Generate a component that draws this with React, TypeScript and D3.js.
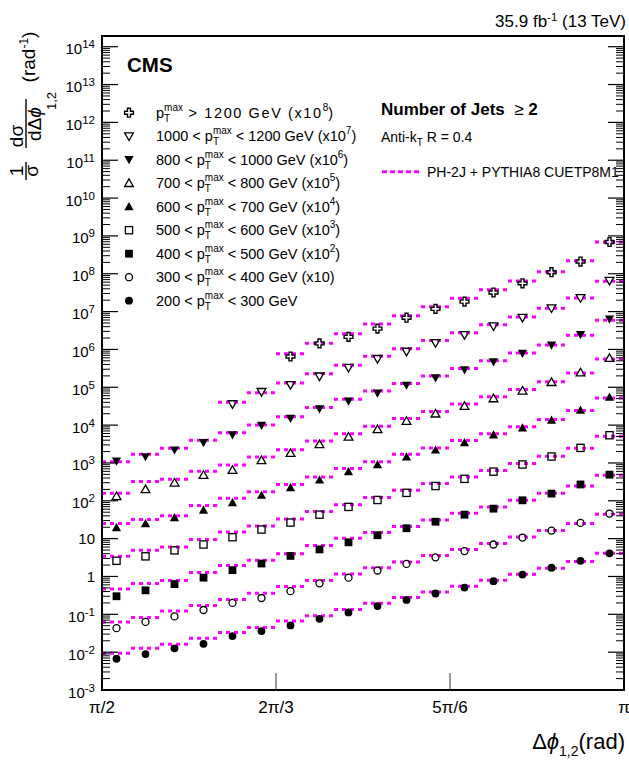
import React from "react";
import * as d3 from "d3";

const WIDTH = 629;
const HEIGHT = 761;
const FONT = "'Liberation Sans', Arial, Helvetica, sans-serif";
const MAGENTA = "#ff00ff";

const N_BINS = 18;
const X_MIN = Math.PI / 2;
const X_MAX = Math.PI;

const xTickValues = [Math.PI / 2, (2 * Math.PI) / 3, (5 * Math.PI) / 6, Math.PI];
const xTickLabels = ["π/2", "2π/3", "5π/6", "π"];
const yDecades = d3.range(-3, 15);

const _ = null;
// data (points) and theory (PH-2J + PYTHIA8) per bin, already scaled
const data1200 = [_, _, _, _, _, _, 6.5e5, 1.45e6, 2.15e6, 3.55e6, 6.9e6, 1.18e7, 1.83e7, 3.2e7, 5.6e7, 1.1e8, 2.1e8, 6.9e8];
const theory1200 = [_, _, _, _, _, _, 7.7e5, 1.45e6, 2.6e6, 4.7e6, 7.8e6, 1.35e7, 2.24e7, 3.8e7, 6.4e7, 1.13e8, 2.2e8, 6.9e8];
const data1000 = [_, _, _, _, 3.6e4, 7.6e4, 1.16e5, 1.95e5, 3.3e5, 5.65e5, 8.8e5, 1.48e6, 2.43e6, 4.1e6, 6.9e6, 1.23e7, 2.3e7, 6.6e7];
const theory1000 = [_, _, _, _, 4.0e4, 7.2e4, 1.3e5, 2.27e5, 3.8e5, 6.6e5, 1.05e6, 1.72e6, 2.75e6, 4.5e6, 7.2e6, 1.23e7, 2.3e7, 6.3e7];
const data800 = [1120, 1460, 2200, 3430, 5500, 9800, 1.5e4, 2.7e4, 4.3e4, 7.0e4, 1.13e5, 1.78e5, 2.9e5, 4.7e5, 7.9e5, 1.3e6, 2.45e6, 6.3e6];
const theory800 = [1070, 1700, 2430, 4000, 6300, 1.0e4, 1.66e4, 2.9e4, 4.8e4, 8.0e4, 1.26e5, 2.0e5, 3.13e5, 5.0e5, 8.1e5, 1.3e6, 2.37e6, 5.9e6];
const data700 = [132, 200, 300, 480, 650, 1170, 1820, 3100, 4900, 7700, 12800, 2.0e4, 3.17e4, 5.07e4, 8.1e4, 1.36e5, 2.45e5, 5.9e5];
const theory700 = [158, 325, 370, 600, 880, 1440, 2250, 3800, 5900, 9300, 1.5e4, 2.3e4, 3.6e4, 5.6e4, 8.7e4, 1.4e5, 2.4e5, 5.6e5];
const data600 = [19.5, 25, 36, 57, 90, 140, 223, 355, 590, 900, 1440, 2200, 3450, 5500, 8500, 13500, 2.5e4, 5.5e4];
const theory600 = [25, 32, 40, 75, 117, 173, 270, 425, 710, 1070, 1700, 2500, 3900, 5900, 9100, 1.4e4, 2.45e4, 5.2e4];
const data500 = [2.6, 3.4, 4.9, 7.0, 10.9, 17.4, 26.6, 43, 69, 105, 162, 246, 380, 590, 910, 1480, 2500, 5400];
const theory500 = [3.4, 4.9, 6.0, 9.5, 15, 21.6, 33, 52, 79, 123, 190, 285, 425, 630, 970, 1510, 2450, 5100];
const data400 = [0.3, 0.43, 0.63, 0.93, 1.47, 2.2, 3.5, 5.2, 8.0, 12.3, 18.8, 28, 43, 62, 103, 155, 270, 490];
const theory400 = [0.47, 0.65, 0.78, 1.27, 1.95, 2.7, 4.0, 6.6, 10.3, 14.5, 21, 31, 47, 69, 103, 158, 246, 470];
const data300 = [0.043, 0.063, 0.088, 0.13, 0.2, 0.27, 0.41, 0.66, 0.93, 1.44, 2.15, 3.2, 4.7, 7.0, 10.7, 16.3, 26, 46];
const theory300 = [0.063, 0.083, 0.123, 0.17, 0.245, 0.36, 0.54, 0.78, 1.17, 1.7, 2.4, 3.6, 5.2, 7.4, 11.1, 16.3, 25, 44];
const data200 = [0.0067, 0.0089, 0.0126, 0.0166, 0.0266, 0.036, 0.051, 0.076, 0.112, 0.165, 0.24, 0.355, 0.51, 0.75, 1.12, 1.7, 2.6, 4.1];
const theory200 = [0.0093, 0.0126, 0.0162, 0.0234, 0.033, 0.045, 0.067, 0.091, 0.135, 0.197, 0.28, 0.39, 0.55, 0.8, 1.15, 1.65, 2.5, 4.1];

const markerTypes = ["opencross", "opentridown", "tridown", "opentriup", "triup", "opensquare", "square", "opencircle", "circle"];
const seriesData = [data1200, data1000, data800, data700, data600, data500, data400, data300, data200];
const seriesTheory = [theory1200, theory1000, theory800, theory700, theory600, theory500, theory400, theory300, theory200];
const legendPrefix = ["", "1000 < ", "800 < ", "700 < ", "600 < ", "500 < ", "400 < ", "300 < ", "200 < "];
const legendSuffix = [" > 1200 GeV (x10", " < 1200 GeV (x10", " < 1000 GeV (x10", " < 800 GeV (x10", " < 700 GeV (x10", " < 600 GeV (x10", " < 500 GeV (x10", " < 400 GeV (x10)", " < 300 GeV"];
const legendExp = ["8", "7", "6", "5", "4", "3", "2", "", ""];

let ctx: CanvasRenderingContext2D | null = null;
function textWidth(t: string, size: number) {
  if (!ctx) ctx = document.createElement("canvas").getContext("2d");
  if (!ctx) return t.length * size * 0.55;
  ctx.font = `${size}px 'Liberation Sans'`;
  return ctx.measureText(t).width;
}

function Marker({ type, cx, cy }: { type: string; cx: number; cy: number }) {
  const sw = 1.3;
  switch (type) {
    case "circle":
      return <circle cx={cx} cy={cy} r={3.9} fill="black" />;
    case "opencircle":
      return <circle cx={cx} cy={cy} r={3.5} fill="none" stroke="black" strokeWidth={sw} />;
    case "square":
      return <rect x={cx - 3.9} y={cy - 3.9} width={7.8} height={7.8} fill="black" />;
    case "opensquare":
      return <rect x={cx - 3.6} y={cy - 3.6} width={7.2} height={7.2} fill="none" stroke="black" strokeWidth={sw} />;
    case "triup":
      return <path d={`M${cx},${cy - 4.6}L${cx + 4.6},${cy + 3.6}L${cx - 4.6},${cy + 3.6}Z`} fill="black" />;
    case "opentriup":
      return <path d={`M${cx},${cy - 4.3}L${cx + 4.4},${cy + 3.3}L${cx - 4.4},${cy + 3.3}Z`} fill="none" stroke="black" strokeWidth={sw} />;
    case "tridown":
      return <path d={`M${cx},${cy + 4.6}L${cx + 4.6},${cy - 3.6}L${cx - 4.6},${cy - 3.6}Z`} fill="black" />;
    case "opentridown":
      return <path d={`M${cx},${cy + 4.3}L${cx + 4.4},${cy - 3.3}L${cx - 4.4},${cy - 3.3}Z`} fill="none" stroke="black" strokeWidth={sw} />;
    case "opencross": {
      const a = 4.4, b = 1.5;
      const d = `M${cx - b},${cy - a}H${cx + b}V${cy - b}H${cx + a}V${cy + b}H${cx + b}V${cy + a}H${cx - b}V${cy + b}H${cx - a}V${cy - b}H${cx - b}Z`;
      return <path d={d} fill="none" stroke="black" strokeWidth={1.4} />;
    }
    default:
      return null;
  }
}

export default function App() {
  const left = 102, right = 624, top = 36, bottom = 690;
  const x = d3.scaleLinear().domain([X_MIN, X_MAX]).range([left, right]);
  const y = d3.scaleLog().domain([1e-3, Math.pow(10, 14.283)]).range([bottom, top]);
  const edges = d3.range(N_BINS + 1).map((i) => X_MIN + (i * (X_MAX - X_MIN)) / N_BINS);
  const centers = d3.range(N_BINS).map((i) => (edges[i] + edges[i + 1]) / 2);
  const yMaxVal = y.domain()[1];

  const minorTicks: number[] = [];
  yDecades.forEach((n) => {
    for (let k = 2; k <= 9; k++) {
      const v = k * Math.pow(10, n);
      if (v < yMaxVal) minorTicks.push(v);
    }
  });

  const LFS = 14.5;
  const SFS = 10;
  const wMax = textWidth("max", SFS);
  const wT = textWidth("T", SFS);

  return (
    <svg width={WIDTH} height={HEIGHT} style={{ position: "absolute", left: 0, top: 0, display: "block", background: "white" }} fontFamily={FONT}>
      <rect x={0} y={0} width={WIDTH} height={HEIGHT} fill="white" />

      {/* theory step segments */}
      {seriesTheory.map((arr, si) => (
        <g key={"th" + si}>
          {arr.map((v, i) =>
            v == null ? null : (
              <line key={i} x1={x(edges[i])} x2={x(edges[i + 1])} y1={y(v)} y2={y(v)} stroke={MAGENTA} strokeWidth={3} strokeDasharray="4 4" />
            )
          )}
        </g>
      ))}

      {/* data markers */}
      {seriesData.map((arr, si) => (
        <g key={"d" + si}>
          {arr.map((v, i) => (v == null ? null : <Marker key={i} type={markerTypes[si]} cx={x(centers[i])} cy={y(v)} />))}
        </g>
      ))}

      {/* y ticks */}
      {yDecades.map((n) => (
        <g key={"yt" + n}>
          <line x1={left} x2={left + 16} y1={y(Math.pow(10, n))} y2={y(Math.pow(10, n))} stroke="black" strokeWidth={1.2} />
          <line x1={right - 16} x2={right} y1={y(Math.pow(10, n))} y2={y(Math.pow(10, n))} stroke="black" strokeWidth={1.2} />
        </g>
      ))}
      {minorTicks.map((v, i) => (
        <g key={"ym" + i}>
          <line x1={left} x2={left + 8} y1={y(v)} y2={y(v)} stroke="black" strokeWidth={1} />
          <line x1={right - 8} x2={right} y1={y(v)} y2={y(v)} stroke="black" strokeWidth={1} />
        </g>
      ))}

      {/* x ticks */}
      {xTickValues.slice(1, 3).map((v, i) => (
        <line key={"xt" + i} x1={x(v)} x2={x(v)} y1={bottom} y2={bottom - 17} stroke="#555" strokeWidth={1.2} />
      ))}

      {/* frame */}
      <rect x={left} y={top} width={right - left} height={bottom - top} fill="none" stroke="black" strokeWidth={2} />

      {/* y tick labels */}
      {yDecades.map((n) => {
        const ty = y(Math.pow(10, n));
        if (n === 0 || n === 1)
          return (
            <text key={"yl" + n} x={95} y={ty + 5.5} textAnchor="end" fontSize={15}>
              {n === 0 ? "1" : "10"}
            </text>
          );
        return (
          <text key={"yl" + n} x={95} y={ty + 7.5} textAnchor="end" fontSize={15}>
            10<tspan dy={-6} fontSize={11.5}>{String(n)}</tspan>
          </text>
        );
      })}

      {/* x tick labels */}
      {xTickValues.map((v, i) => (
        <text key={"xl" + i} x={x(v)} y={713} textAnchor="middle" fontSize={17}>
          {xTickLabels[i]}
        </text>
      ))}

      {/* x axis title */}
      <text x={625} y={749} textAnchor="end" fontSize={22}>
        Δ<tspan fontStyle="italic">ϕ</tspan>
        <tspan dy={7} fontSize={14}>1,2</tspan>
        <tspan dy={-7}>(rad)</tspan>
      </text>

      {/* y axis title (rotated) */}
      <text transform="translate(23,171) rotate(-90)" textAnchor="middle" fontSize={19}>1</text>
      <line x1={26} x2={26} y1={162} y2={180} stroke="black" strokeWidth={1.4} />
      <text transform="translate(38,171) rotate(-90)" textAnchor="middle" fontSize={19}>σ</text>
      <text transform="translate(23,136) rotate(-90)" textAnchor="middle" fontSize={19}>dσ</text>
      <line x1={26} x2={26} y1={99} y2={148} stroke="black" strokeWidth={1.4} />
      <text transform="translate(41,124) rotate(-90)" textAnchor="middle" fontSize={19}>
        dΔ<tspan fontStyle="italic">ϕ</tspan>
      </text>
      <text transform="translate(56,101) rotate(-90)" textAnchor="middle" fontSize={13}>1,2</text>
      <text transform="translate(35,57) rotate(-90)" textAnchor="middle" fontSize={19}>
        (rad<tspan dy={-7} fontSize={12}>-1</tspan>
        <tspan dy={7}>)</tspan>
      </text>

      {/* top right lumi */}
      <text x={626} y={27} textAnchor="end" fontSize={17}>
        35.9 fb<tspan dy={-6} fontSize={11.5}>-1</tspan>
        <tspan dy={6}> (13 TeV)</tspan>
      </text>

      {/* CMS */}
      <text x={127} y={72} fontSize={20.5} fontWeight="bold">CMS</text>

      {/* legend of data */}
      {markerTypes.map((t, i) => {
        const ry = 112.7 + i * 23.5;
        return (
          <g key={"lg" + i}>
            <Marker type={t} cx={129} cy={ry} />
            <text x={156} y={ry + 5} fontSize={LFS} style={{ whiteSpace: "pre" }}>
              {legendPrefix[i]}p
              <tspan dy={-7} fontSize={SFS}>max</tspan>
              <tspan dx={-wMax} dy={11} fontSize={SFS}>T</tspan>
              <tspan dx={wMax - wT} dy={-4} letterSpacing={i === 0 ? 1.6 : 0}>{legendSuffix[i]}</tspan>
              {legendExp[i] ? <tspan dy={-7} fontSize={SFS}>{legendExp[i]}</tspan> : null}
              {legendExp[i] ? <tspan dy={7}>)</tspan> : null}
            </text>
          </g>
        );
      })}

      {/* right texts */}
      <text x={381} y={115} fontSize={17} fontWeight="bold" style={{ whiteSpace: "pre" }}>
        {"Number of Jets  "}<tspan fontWeight="normal">≥</tspan> 2
      </text>
      <text x={381} y={142} fontSize={14}>
        Anti-k<tspan dy={4} fontSize={10}>T</tspan>
        <tspan dy={-4}> R = 0.4</tspan>
      </text>
      <line x1={382} x2={420} y1={171.7} y2={171.7} stroke={MAGENTA} strokeWidth={3} strokeDasharray="5 3" />
      <text x={427} y={176.5} fontSize={14}>PH-2J + PYTHIA8 CUETP8M1</text>
    </svg>
  );
}
